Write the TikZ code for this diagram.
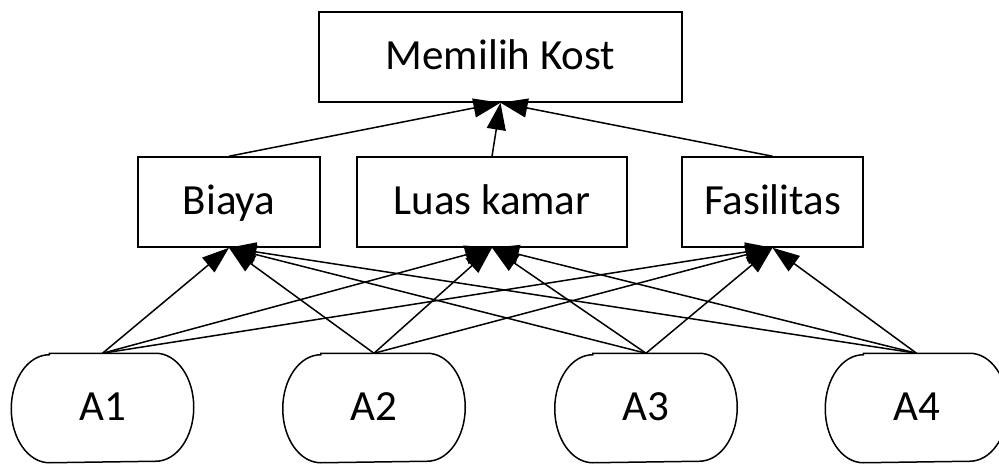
\documentclass[tikz,border=0pt]{standalone}
\usepackage{fontspec}
\setmainfont{Carlito}
\usetikzlibrary{arrows.meta}
\begin{document}
\begin{tikzpicture}[x=1pt,y=1pt,line width=1.5pt,
  lbl/.style={font=\fontsize{43}{50}\selectfont, text height=28pt, text depth=3pt, inner sep=0pt},
  box/.style={lbl, draw, minimum width=#1, minimum height=90pt},
  term/.style={lbl, minimum width=181pt, minimum height=108pt},
  link/.style={-{Triangle[length=27pt,width=19pt]}}]
\useasboundingbox (0,0) rectangle (999,464);
\clip (0,0) rectangle (999,464);
\node[box=363pt] (goal) at (500.5,407) {Memilih Kost};
\node[box=182pt] (biaya) at (229,262) {Biaya};
\node[box=270pt] (luas) at (492,262) {Luas kamar};
\node[box=181pt] (fas) at (772.5,262) {Fasilitas};
\node[term] (A1) at (102.5,56) {A1};
\node[term] (A2) at (374,56) {A2};
\node[term] (A3) at (646,56) {A3};
\node[term] (A4) at (916.5,56) {A4};
\foreach \n in {A1,A2,A3,A4}{
  \draw ([xshift=38pt]\n.north west) -- ([xshift=-38pt]\n.north east)
    arc[start angle=90, end angle=-90, x radius=38pt, y radius=54pt]
    -- ([xshift=38pt]\n.south west)
    arc[start angle=270, end angle=90, x radius=38pt, y radius=54pt] -- cycle;
}
\foreach \c in {biaya,luas,fas}{
  \draw[link] (\c.north) -- (goal.south);
  \foreach \n in {A1,A2,A3,A4}{
    \draw[link] (\n.north) -- (\c.south);
  }
}
\end{tikzpicture}
\end{document}
